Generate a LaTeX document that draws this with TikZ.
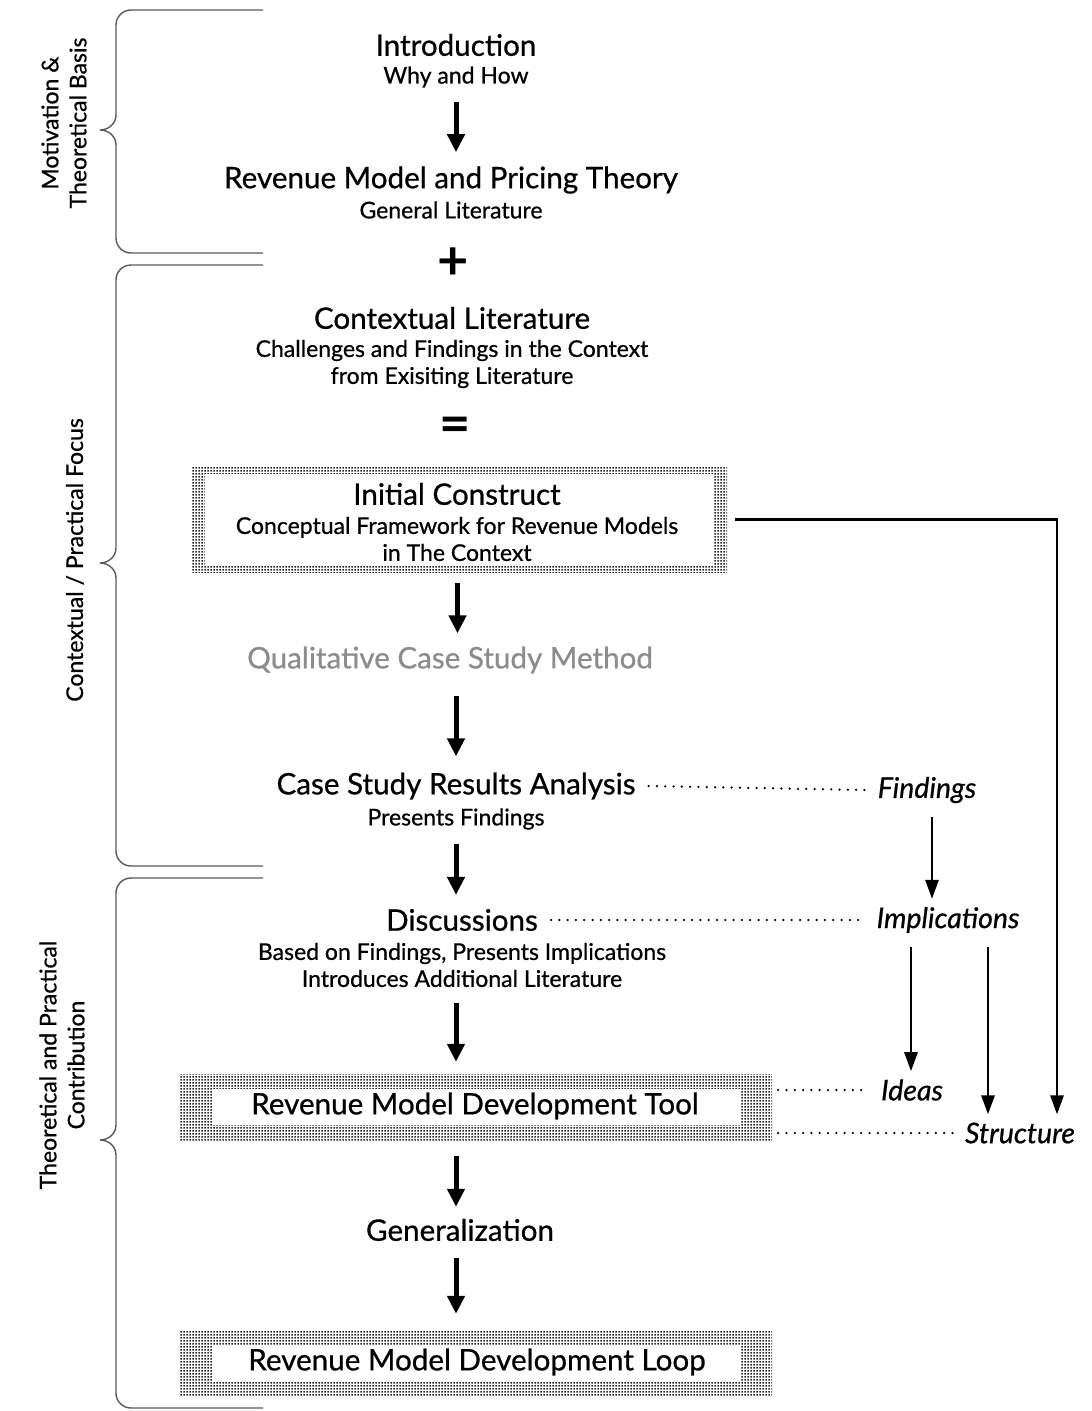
\documentclass[tikz,border=0pt]{standalone}
\usepackage{fontspec}
\setmainfont{Lato}[UprightFeatures={FakeBold=0.7},ItalicFeatures={FakeBold=0.7}]
\usetikzlibrary{arrows.meta,patterns}
% fine, dense dot screen for the frame borders
\pgfdeclarepatternformonly{finedots}{\pgfqpoint{0pt}{0pt}}{\pgfqpoint{3pt}{3pt}}{\pgfqpoint{3pt}{3pt}}{%
  \pgfpathrectangle{\pgfqpoint{0.5pt}{0.5pt}}{\pgfqpoint{1.9pt}{1.9pt}}\pgfusepath{fill}}
\begin{document}
\begin{tikzpicture}[x=1pt,y=-1pt,
  title/.style={inner sep=0pt,font=\fontsize{29.6}{33}\selectfont},
  sub/.style={inner sep=0pt,font=\fontsize{23}{27}\selectfont,align=center},
  side/.style={inner sep=0pt,rotate=90,align=center,font=\fontsize{23}{28}\selectfont},
  tag/.style={inner sep=0pt,font=\itshape\fontsize{28.5}{32}\selectfont},
  sym/.style={inner sep=0pt,font=\bfseries\fontsize{54}{54}\selectfont},
  arr/.style={line width=5pt,-{Triangle[length=18pt,width=17pt]}},
  sarr/.style={line width=2.8pt,-{Triangle[length=19pt,width=13pt]}},
  dots/.style={line width=2.5pt,line cap=round,dash pattern=on 0pt off 8.3pt},
  brace/.style={line width=1.4pt,draw=black!65},
  dotfill/.style={pattern=finedots,pattern color=black!85}
]
\useasboundingbox (0,0) rectangle (1092,1411);

% ---- side braces ----
\foreach \yt/\ym/\yb in {10/130/253, 265/563/866, 878/1140/1408}{
  \draw[brace] (263,\yt) -- (131,\yt) to[out=180,in=90] (116,\yt+15)
    -- (116,\ym-15) to[out=-90,in=0] (100,\ym)
    to[out=0,in=90] (116,\ym+15) -- (116,\yb-15)
    to[out=-90,in=180] (131,\yb) -- (263,\yb);
}
\node[side] (lab1) at (64,123) {Motivation \&\\Theoretical Basis};
\node[side] (lab2) at (75,560) {Contextual / Practical Focus};
\node[side] (lab3) at (62,1065) {Theoretical and Practical\\Contribution};

% ---- dotted frames ----
\node[dotfill,minimum width=535,minimum height=105,inner sep=0] (icbox) at (459.5,519.5) {};
\fill[white] ([xshift=13,yshift=-7]icbox.north west) rectangle ([xshift=-13,yshift=7]icbox.south east);
\node[dotfill,minimum width=593,minimum height=66,inner sep=0] (toolbox) at (475.5,1107) {};
\fill[white] ([xshift=33,yshift=-15]toolbox.north west) rectangle ([xshift=-32,yshift=15]toolbox.south east);
\node[dotfill,minimum width=593,minimum height=66,inner sep=0] (loopbox) at (475.5,1363) {};
\fill[white] ([xshift=33,yshift=-15]loopbox.north west) rectangle ([xshift=-32,yshift=15]loopbox.south east);

% ---- main column ----
\node[title] (intro) at (456,45) {Introduction};
\node[sub] (intro2) at (456,77) {Why and How};
\node[title] (rev) at (451,180) {Revenue Model and Pricing Theory};
\node[sub] (rev2) at (451,210) {General Literature};
\node[sym] (plus) at (453,264) {+};
\node[title] (ctx) at (452,318) {Contextual Literature};
\node[sub] (ctx2) at (452,364) {Challenges and Findings in the Context\\from Exisiting Literature};
\node[sym] (eq) at (455,430) {=};
\node[title] (ic) at (457,494) {Initial Construct};
\node[sub] (ic2) at (457,539) {Conceptual Framework for Revenue Models\\in The Context};
\node[title,text=black!45] (qual) at (450,660) {Qualitative Case Study Method};
\node[title] (cs) at (456,786) {Case Study Results Analysis};
\node[sub] (cs2) at (456,819) {Presents Findings};
\node[title] (disc) at (462,920) {Discussions};
\node[sub] (disc2) at (462,965) {Based on Findings, Presents Implications\\Introduces Additional Literature};
\node[title] (tool) at (475,1106) {Revenue Model Development Tool};
\node[title] (gen) at (460,1230) {Generalization};
\node[title] (loop) at (477,1362) {Revenue Model Development Loop};

% ---- right column tags ----
\node[tag] (find) at (927,790) {Findings};
\node[tag] (impl) at (948,920) {Implications};
\node[tag] (idea) at (912,1090) {Ideas};
\node[tag] (struct) at (1020,1133) {Structure};

% ---- main arrows ----
\draw[arr] ([yshift=-14]intro2.south) -- ([yshift=14]intro2.south |- rev.north);
\draw[arr] ([xshift=-2,yshift=-11]icbox.south) -- ([xshift=-2,yshift=13]icbox.south |- qual.north);
\draw[arr] ([yshift=-22]qual.south -| cs.north) -- ([yshift=16]cs.north);
\draw[arr] ([yshift=-14]cs2.south) -- ([yshift=14]cs2.south |- disc.north);
\draw[arr] ([xshift=-6,yshift=-16]disc2.south) -- ([xshift=-6,yshift=12]disc2.south |- toolbox.north);
\draw[arr] ([xshift=-4,yshift=-16]gen.north |- toolbox.south) -- ([xshift=-4,yshift=12]gen.north);
\draw[arr] ([xshift=-4,yshift=-17]gen.south) -- ([xshift=-4,yshift=16]loopbox.north -| gen.south);

% ---- dotted links ----
\draw[dots] ([xshift=13]cs.east) -- ([xshift=-13]find.west);
\draw[dots] ([xshift=13]disc.east) -- ([xshift=-10]impl.west);
\draw[dots] ([xshift=6]toolbox.east |- idea.west) -- ([xshift=-12]idea.west);
\draw[dots] ([xshift=6]toolbox.east |- struct.west) -- ([xshift=-9]struct.west);

% ---- right arrows ----
\draw[sarr] ([xshift=5,yshift=-14]find.south) -- ([xshift=5,yshift=8]find.south |- impl.north);
\draw[sarr] ([xshift=-37,yshift=-14]impl.south) -- ([xshift=-37,yshift=8]impl.south |- idea.north);
\draw[sarr] ([xshift=40,yshift=-14]impl.south) -- ([xshift=40,yshift=8]impl.south |- struct.north);
\draw[sarr] ([xshift=8]icbox.east) -| ([xshift=37,yshift=8]struct.north);
\end{tikzpicture}
\end{document}
